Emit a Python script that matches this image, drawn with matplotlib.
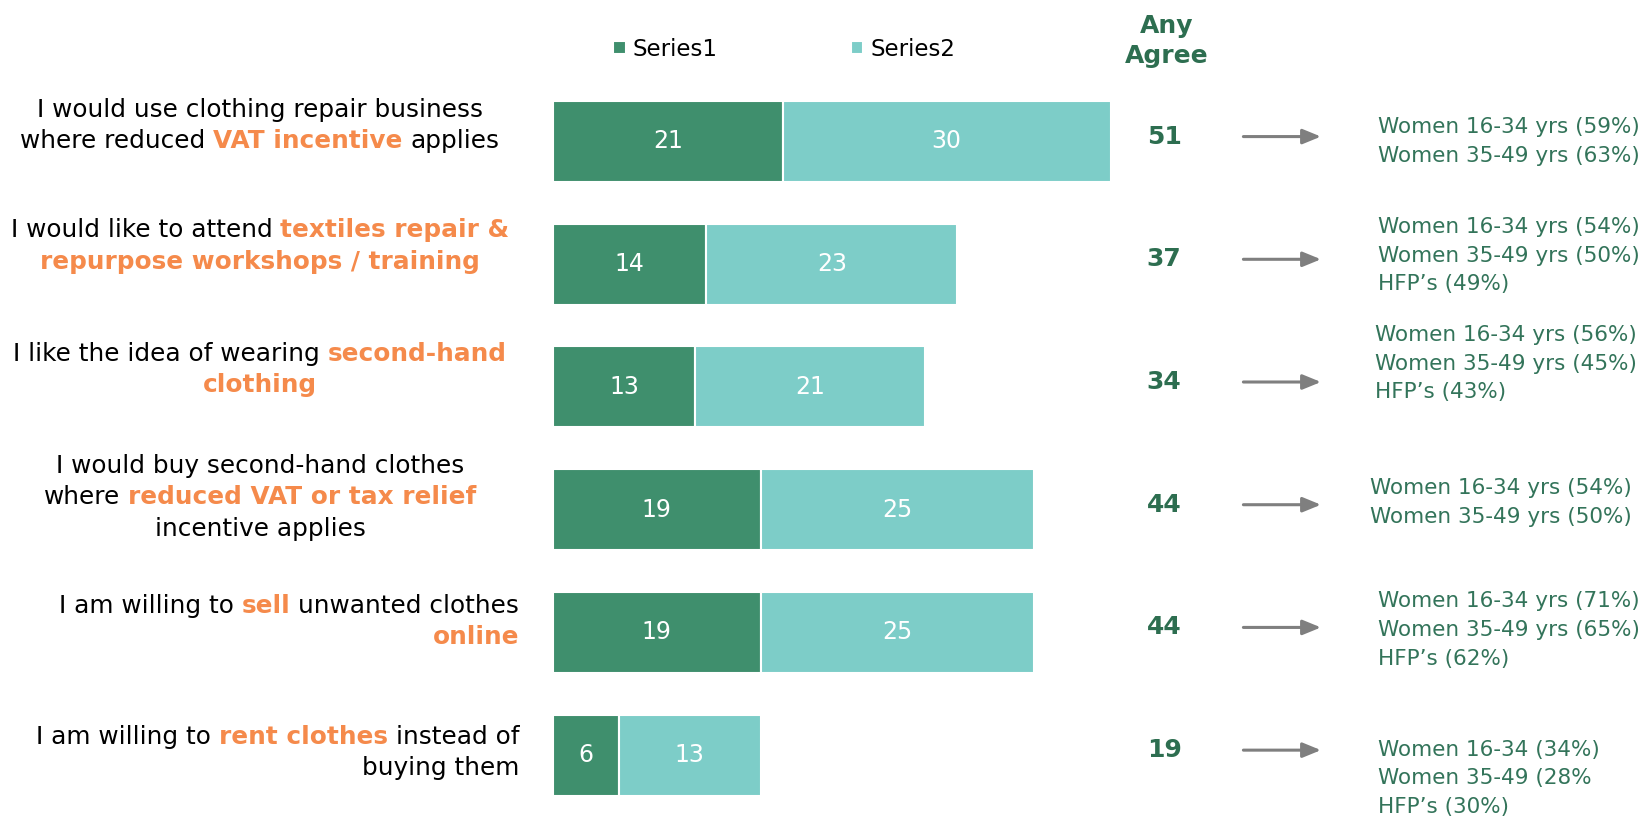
import matplotlib.pyplot as plt
from matplotlib.transforms import IdentityTransform

# data
series1 = [21, 14, 13, 19, 19, 6]
series2 = [30, 23, 21, 25, 25, 13]
any_agree = [51, 37, 34, 44, 44, 19]

# statement labels, each line a list of (text, highlighted)
labels = [
    [[("I would use clothing repair business", False)],
     [("where reduced ", False), ("VAT incentive", True), (" applies", False)]],
    [[("I would like to attend ", False), ("textiles repair &", True)],
     [("repurpose workshops / training", True)]],
    [[("I like the idea of wearing ", False), ("second-hand", True)],
     [("clothing", True)]],
    [[("I would buy second-hand clothes", False)],
     [("where ", False), ("reduced VAT or tax relief", True)],
     [("incentive applies", False)]],
    [[("I am willing to ", False), ("sell", True), (" unwanted clothes", False)],
     [("online", True)]],
    [[("I am willing to ", False), ("rent clothes", True), (" instead of", False)],
     [("buying them", False)]],
]
label_align = ["center", "center", "center", "center", "right", "right"]

subgroups = [
    "Women 16-34 yrs (59%)\nWomen 35-49 yrs (63%)",
    "Women 16-34 yrs (54%)\nWomen 35-49 yrs (50%)\nHFP's (49%)",
    "Women 16-34 yrs (56%)\nWomen 35-49 yrs (45%)\nHFP's (43%)",
    "Women 16-34 yrs (54%)\nWomen 35-49 yrs (50%)",
    "Women 16-34 yrs (71%)\nWomen 35-49 yrs (65%)\nHFP's (62%)",
    "Women 16-34 (34%)\nWomen 35-49 (28%\nHFP's (30%)",
]

# layout tweaks (row units)
label_dy = [-0.13, -0.15, -0.14, -0.10, -0.09, -0.02]
sub_dy = [0.0, -0.07, -0.19, -0.06, -0.02, 0.19]
sub_dx = [0, 0, -0.3, -0.8, 0, 0]

C1 = "#3F8F6D"
C2 = "#7DCDC8"
ORANGE = "#F58A4B"
DKGREEN = "#2D6E50"
TXTGREEN = "#33745A"
FONT = "DejaVu Sans"
FS = 17.8

fig = plt.figure(figsize=(16.44, 8.18), dpi=100)
ax = fig.add_axes([553 / 1644, 0, 1 - 553 / 1644, 1])
ax.set_xlim(0, 99.8)
ax.set_ylim(5.513, -1.153)
ax.axis("off")

rows = list(range(len(series1)))
b1 = ax.barh(rows, series1, height=0.66, color=C1, edgecolor="white", linewidth=1.5, label="Series1")
b2 = ax.barh(rows, series2, left=series1, height=0.66, color=C2, edgecolor="white", linewidth=1.5, label="Series2")
ax.bar_label(b1, label_type="center", color="white", fontsize=17, family=FONT)
ax.bar_label(b2, label_type="center", color="white", fontsize=17, family=FONT)

leg = fig.legend(handles=[b1, b2], loc="center", bbox_to_anchor=(0.477, 0.94), ncol=2, frameon=False,
                 handlelength=0.55, handleheight=0.55, handletextpad=0.3, columnspacing=5.8,
                 prop={"family": FONT, "size": 16.5})

ax.text(56.1, -0.82, "Any\nAgree", ha="center", va="center", fontsize=18, fontweight="bold",
        color=DKGREEN, family=FONT, linespacing=1.35)

for i in rows:
    y = i - 0.04
    ax.text(55.9, y, str(any_agree[i]), ha="center", va="center", fontsize=18, fontweight="bold",
            color=DKGREEN, family=FONT)
    ax.annotate("", xy=(70.5, y), xytext=(62.9, y),
                arrowprops=dict(arrowstyle="-|>,head_length=1.1,head_width=0.45", color="#7F7F7F", lw=2.2))
    ax.text(75.5 + sub_dx[i], i + sub_dy[i], subgroups[i].replace("'", "\u2019"), ha="left", va="center",
            fontsize=15.5, color=TXTGREEN, family=FONT, linespacing=1.55)

# rich left labels, measured and placed in pixels
fig.canvas.draw()
renderer = fig.canvas.get_renderer()


def text_width(s, bold):
    t = fig.text(0, 0, s, fontsize=FS, family=FONT, fontweight="bold" if bold else "normal")
    w = t.get_window_extent(renderer).width
    t.remove()
    return w


space_w = text_width("x x", False) - text_width("xx", False)
line_h = 31.5

for i, lines in enumerate(labels):
    yc = ax.transData.transform((0, i + label_dy[i]))[1]
    n = len(lines)
    for k, segs in enumerate(lines):
        ypix = yc + (n - 1) / 2 * line_h - k * line_h
        widths = []
        for s, hl in segs:
            lead = len(s) - len(s.lstrip(" "))
            trail = len(s) - len(s.rstrip(" "))
            widths.append((lead, text_width(s.strip(), hl), trail))
        total = sum(l * space_w + w + t * space_w for l, w, t in widths)
        if label_align[i] == "center":
            x = 260 - total / 2
        else:
            x = 519 - total
        for (s, hl), (lead, w, trail) in zip(segs, widths):
            x += lead * space_w
            fig.text(x, ypix, s.strip(), transform=IdentityTransform(), ha="left", va="center",
                     fontsize=FS, family=FONT, fontweight="bold" if hl else "normal",
                     color=ORANGE if hl else "black")
            x += w + trail * space_w

fig.savefig("out.png", dpi=100)
